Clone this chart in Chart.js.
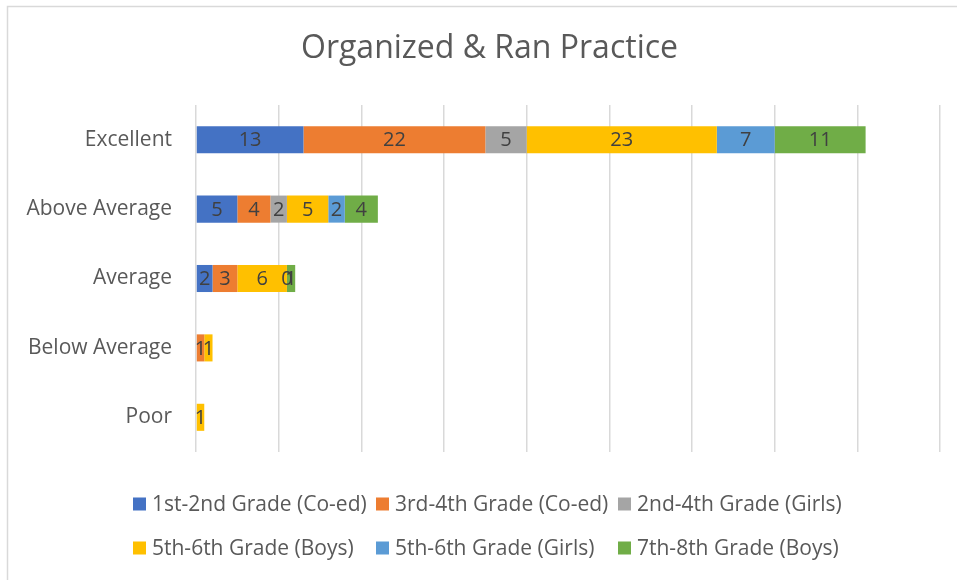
<!DOCTYPE html>
<html>
<head>
<meta charset="utf-8">
<script src="https://cdn.jsdelivr.net/npm/chart.js@4/dist/chart.umd.min.js"></script>
<style>
  html, body { margin: 0; padding: 0; background: #ffffff; }
  #wrap { position: relative; width: 957px; height: 580px; }
</style>
</head>
<body>
<div id="wrap"><canvas id="c" width="957" height="580"></canvas></div>
<script>
// ---- Data ----
const chartTitle = 'Organized & Ran Practice';
const categories = ['Excellent', 'Above Average', 'Average', 'Below Average', 'Poor'];
const seriesNames = [
  '1st-2nd Grade (Co-ed)',
  '3rd-4th Grade (Co-ed)',
  '2nd-4th Grade (Girls)',
  '5th-6th Grade (Boys)',
  '5th-6th Grade (Girls)',
  '7th-8th Grade (Boys)'
];
const grade12CoEd  = [13, 5, 2, null, null];
const grade34CoEd  = [22, 4, 3, 1, null];
const grade24Girls = [5, 2, null, null, null];
const grade56Boys  = [23, 5, 6, 1, 1];
const grade56Girls = [7, 2, 0, null, null];
const grade78Boys  = [11, 4, 1, null, null];
const xTickMin = 0, xTickMax = 90, xTickStep = 10;

const seriesValues = [grade12CoEd, grade34CoEd, grade24Girls, grade56Boys, grade56Girls, grade78Boys];
const seriesColors = ['#4472C4', '#ED7D31', '#A5A5A5', '#FFC000', '#5B9BD5', '#70AD47'];

const FONT = '"Open Sans", Lato, "DejaVu Sans", sans-serif';

const datasets = seriesNames.map((name, i) => ({
  label: name,
  data: seriesValues[i],
  backgroundColor: seriesColors[i],
  borderWidth: 0,
  categoryPercentage: 1.0,
  barPercentage: 0.39
}));

// Value labels centered in each segment
const valueLabels = {
  id: 'valueLabels',
  afterDatasetsDraw(chart) {
    const ctx = chart.ctx;
    ctx.save();
    ctx.font = '20px ' + FONT;
    ctx.fillStyle = '#404040';
    ctx.textAlign = 'center';
    ctx.textBaseline = 'middle';
    chart.data.datasets.forEach((ds, i) => {
      const meta = chart.getDatasetMeta(i);
      meta.data.forEach((bar, j) => {
        const v = ds.data[j];
        if (v === null || v === undefined) return;
        ctx.fillText(String(v), (bar.x + bar.base) / 2, bar.y + 1);
      });
    });
    ctx.restore();
  }
};

// Excel-style legend laid out in a 3-column grid
const gridLegend = {
  id: 'gridLegend',
  afterDraw(chart) {
    const ctx = chart.ctx;
    const ds = chart.data.datasets;
    const colX0 = 133, colW = 242.5, rowY0 = 504, rowH = 44, perRow = 3, box = 13;
    ctx.save();
    ctx.font = '21px ' + FONT;
    ctx.textBaseline = 'middle';
    ctx.textAlign = 'left';
    ds.forEach((d, i) => {
      const col = i % perRow, row = Math.floor(i / perRow);
      const x = Math.round(colX0 + col * colW);
      const y = rowY0 + row * rowH;
      ctx.fillStyle = d.backgroundColor;
      ctx.fillRect(x, y - box / 2, box, box);
      ctx.fillStyle = '#595959';
      ctx.fillText(d.label, x + 19, y + 1);
    });
    ctx.restore();
  }
};

// Title centred over the whole chart box (as in the reference)
const centeredTitle = {
  id: 'centeredTitle',
  afterDraw(chart) {
    const ctx = chart.ctx;
    ctx.save();
    ctx.font = '32px ' + FONT;
    ctx.fillStyle = '#595959';
    ctx.textAlign = 'center';
    ctx.textBaseline = 'middle';
    ctx.fillText(chartTitle, 489.5, 49);
    ctx.restore();
  }
};

// Partial chart-area frame (top and left edges visible in reference)
const frame = {
  id: 'frame',
  beforeDraw(chart) {
    const ctx = chart.ctx;
    ctx.save();
    ctx.strokeStyle = '#d9d9d9';
    ctx.lineWidth = 1.5;
    ctx.beginPath();
    ctx.moveTo(7.5, chart.height);
    ctx.lineTo(7.5, 6.5);
    ctx.lineTo(chart.width, 6.5);
    ctx.stroke();
    ctx.restore();
  }
};

new Chart(document.getElementById('c'), {
  type: 'bar',
  data: { labels: categories, datasets },
  options: {
    indexAxis: 'y',
    responsive: false,
    animation: false,
    devicePixelRatio: 1,
    layout: { padding: { left: 0, right: 17, top: 105, bottom: 128 } },
    plugins: {
      legend: { display: false },
      tooltip: { enabled: false },
      title: { display: false }
    },
    scales: {
      x: {
        stacked: true,
        min: xTickMin,
        max: xTickMax,
        ticks: { display: false, stepSize: xTickStep },
        grid: { color: '#d9d9d9', lineWidth: 1.5, drawTicks: false },
        border: { display: false },
        afterFit(scale) { scale.height = 0; }
      },
      y: {
        stacked: true,
        grid: { display: false, drawTicks: false },
        border: { display: false },
        ticks: { color: '#595959', font: { family: FONT, size: 21 }, padding: 24 },
        afterFit(scale) { scale.width = 196; }
      }
    }
  },
  plugins: [frame, valueLabels, gridLegend, centeredTitle]
});
</script>
</body>
</html>
